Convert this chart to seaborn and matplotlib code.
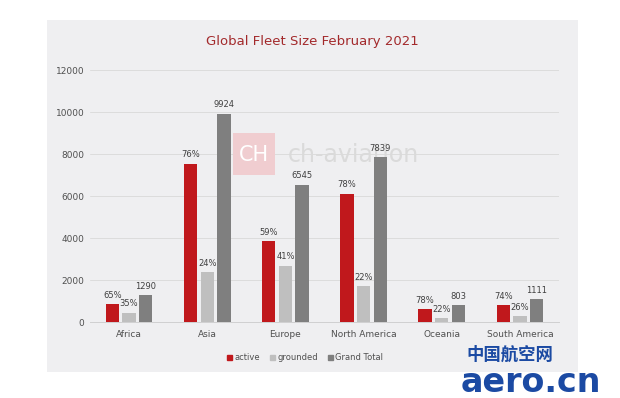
import pandas as pd
import numpy as np
import matplotlib.pyplot as plt
import seaborn as sns
from matplotlib.patches import Rectangle

regions = ["Africa", "Asia", "Europe", "North America", "Oceania", "South America"]
active = [838, 7542, 3862, 6114, 626, 822]
grounded = [452, 2382, 2683, 1725, 177, 289]
grand_total = [1290, 9924, 6545, 7839, 803, 1111]
active_pct = ["65%", "76%", "59%", "78%", "78%", "74%"]
grounded_pct = ["35%", "24%", "41%", "22%", "22%", "26%"]

df = pd.DataFrame({"region": regions * 3,
                   "kind": ["active"] * 6 + ["grounded"] * 6 + ["Grand Total"] * 6,
                   "value": active + grounded + grand_total})

bg = "#efeff1"
colors = {"active": "#c0181c", "grounded": "#bfbfbf", "Grand Total": "#7f7f7f"}

sns.set_style("white")
fig = plt.figure(figsize=(6.2, 3.98), dpi=100)
# grey panel behind everything
fig.patches.append(Rectangle((47 / 620, 1 - 372 / 398), 531 / 620, 352 / 398,
                             transform=fig.transFigure, facecolor=bg, edgecolor="none", zorder=-5))
ax = fig.add_axes([90 / 620, 1 - 322 / 398, 469 / 620, 252 / 398])
ax.set_facecolor("none")

sns.barplot(data=df, x="region", y="value", hue="kind", palette=colors, saturation=1,
            width=0.64, gap=0.2, linewidth=0, edgecolor="none",
            ax=ax, legend=False, zorder=3)

# labels on top of bars
labels = [active_pct, grounded_pct, [str(v) for v in grand_total]]
for cont, lab in zip(ax.containers, labels):
    ax.bar_label(cont, labels=lab, padding=3, fontsize=6, color="#404040", zorder=4)

ax.set_ylim(0, 12000)
ax.set_yticks(range(0, 12001, 2000))
ax.yaxis.grid(True, color="#dcdcdc", linewidth=0.7)
ax.set_axisbelow(True)
ax.set_xlabel("")
ax.set_ylabel("")
ax.tick_params(axis="both", length=0, labelsize=6.5, labelcolor="#505050")
ax.tick_params(axis="y", pad=4)
ax.tick_params(axis="x", pad=6)
for s in ["top", "right", "left"]:
    ax.spines[s].set_visible(False)
ax.spines["bottom"].set_color("#d0d0d0")
ax.spines["bottom"].set_linewidth(0.7)

fig.text(312 / 620, 1 - 41 / 398, "Global Fleet Size February 2021", ha="center", va="center",
         fontsize=9.5, color="#a32a2c")

# legend
handles = [Rectangle((0, 0), 1, 1, color=colors[k]) for k in colors]
fig.legend(handles, list(colors), loc="center", bbox_to_anchor=(305 / 620, 1 - 358 / 398),
           ncol=3, frameon=False, fontsize=6, handlelength=0.6, handleheight=0.6,
           handletextpad=0.3, columnspacing=1.2, labelcolor="#505050")

# ch-aviation watermark, behind the bars
ax.add_patch(Rectangle((233 / 620, 1 - 175 / 398), 42 / 620, 42 / 398,
                       transform=fig.transFigure, facecolor="#f0cdd0", edgecolor="none",
                       zorder=1, clip_on=False))
ax.text(254 / 620, 1 - 155 / 398, "CH", ha="center", va="center", fontsize=15,
        color="white", transform=fig.transFigure, zorder=2)
ax.text(288 / 620, 1 - 155 / 398, "ch-aviation", ha="left", va="center", fontsize=17,
        color="#dadada", transform=fig.transFigure, zorder=1)

# aero.cn watermark
fig.text(466 / 620, 1 - 355 / 398, "中国航空网", ha="left", va="center", fontsize=12.5,
         fontweight="bold", color="#1b4aa3", family=["Noto Sans CJK SC", "DejaVu Sans"])
fig.text(461 / 620, 1 - 382 / 398, "aero.cn", ha="left", va="center", fontsize=24,
         fontweight="bold", color="#1b4aa3")

fig.savefig("out.png", dpi=100)
